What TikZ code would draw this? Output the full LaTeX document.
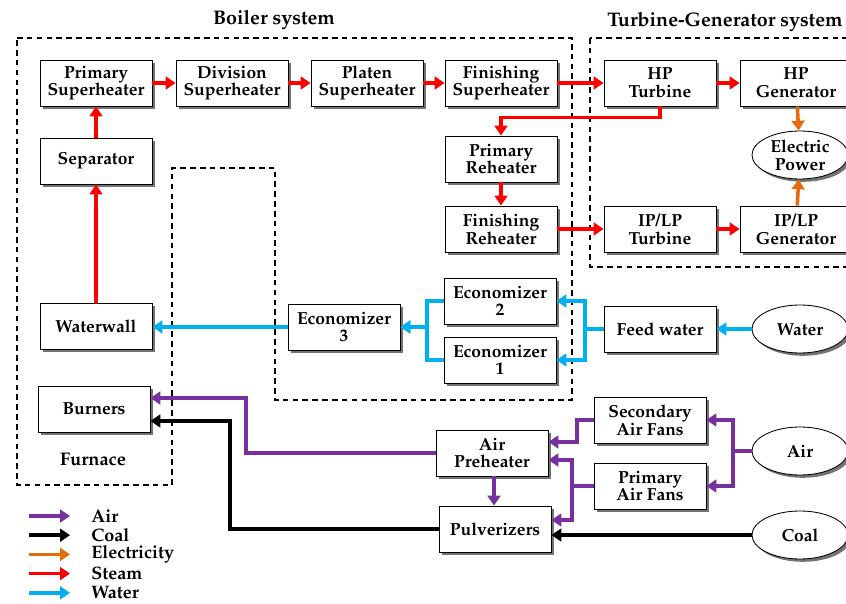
\documentclass[tikz,border=0pt]{standalone}
\usepackage[T1]{fontenc}
\usepackage{mathpazo}
\usetikzlibrary{shapes.geometric}
\usetikzlibrary{arrows.meta}
\usetikzlibrary{shadows}
\usetikzlibrary{positioning}
\usepackage{xcolor}
\definecolor{airc}{RGB}{120,48,160}
\definecolor{elecc}{RGB}{228,108,10}
\definecolor{steamc}{RGB}{255,0,0}
\definecolor{waterc}{RGB}{0,176,240}

\begin{document}
\begin{tikzpicture}[font=\bfseries\fontsize{12.4}{12.6}\selectfont,
    unit/.style={draw, semithick, fill=white, minimum width=2.8cm, minimum height=1.15cm,
        align=center, inner sep=1pt,
        drop shadow={shadow xshift=2pt, shadow yshift=-2pt, fill=black!55, opacity=1}},
    src/.style={ellipse, draw, semithick, fill=white, minimum width=2.4cm, minimum height=1.2cm,
        align=center, inner sep=0pt,
        drop shadow={shadow xshift=2pt, shadow yshift=-2pt, fill=black!55, opacity=1}},
    flow/.style={line width=2.5pt, -{Triangle[length=7pt,width=9pt]}},
    air/.style={flow, airc},
    coal/.style={flow, black},
    elec/.style={flow, elecc},
    steam/.style={flow, steamc},
    water/.style={flow, waterc},
    region/.style={line width=1pt, dash pattern=on 4pt off 3pt},
    biglabel/.style={font=\bfseries\fontsize{14}{16}\selectfont},
    keylabel/.style={font=\bfseries\fontsize{12.8}{13}\selectfont, anchor=west, inner sep=0pt}]
    \useasboundingbox (0, 0) rectangle (21.15, -15.1);

    % dashed regions
    \draw[region] (0.425, -0.95) -- (14.3, -0.95) -- (14.3, -10) -- (6.875, -10)
        -- (6.875, -4.2) -- (4.3, -4.2) -- (4.3, -12.125) -- (0.425, -12.125) -- cycle;
    \draw[region] (14.75, -0.95) rectangle (21.6, -6.675);
    \node[biglabel] (boiler) at (6.85, -0.5) {Boiler system};
    \node[biglabel] (tgsys) at (18.125, -0.55) {Turbine-Generator system};

    % boiler
    \node[unit] (ps) at (2.4, -2.075) {Primary\\Superheater};
    \node[unit] (ds) at (5.8, -2.075) {Division\\Superheater};
    \node[unit] (pls) at (9.175, -2.075) {Platen\\Superheater};
    \node[unit] (fs) at (12.525, -2.075) {Finishing\\Superheater};
    \node[unit] (sep) at (2.4, -4.025) {Separator};
    \node[unit] (pr) at (12.525, -3.975) {Primary\\Reheater};
    \node[unit] (fr) at (12.525, -5.725) {Finishing\\Reheater};
    \node[unit] (ww) at (2.4, -8.15) {Waterwall};
    \node[unit] (bur) at (2.35, -10.225) {Burners};
    \node[font=\bfseries\fontsize{13}{15}\selectfont] (fur) at (2.325, -11.475) {Furnace};
    \node[unit] (eco3) at (8.6, -8.175) {Economizer\\3};
    \node[unit] (eco2) at (12.5, -7.525) {Economizer\\2};
    \node[unit] (eco1) at (12.5, -9.0) {Economizer\\1};

    % turbine-generator
    \node[unit] (hpt) at (16.5, -2.075) {HP\\Turbine};
    \node[unit] (hpg) at (19.9, -2.075) {HP\\Generator};
    \node[unit] (ipt) at (16.5, -5.725) {IP/LP\\Turbine};
    \node[unit] (ipg) at (19.9, -5.725) {IP/LP\\Generator};
    \node[src] (ep) at (20, -3.875) {Electric\\Power};

    % supply side
    \node[unit] (fw) at (16.5, -8.225) {Feed water};
    \node[src] (water) at (20, -8.225) {Water};
    \node[unit] (saf) at (16.25, -10.5) {Secondary\\Air Fans};
    \node[unit] (paf) at (16.25, -12.15) {Primary\\Air Fans};
    \node[src] (air) at (20, -11.275) {Air};
    \node[unit] (ap) at (12.3, -11.325) {Air\\Preheater};
    \node[unit] (pul) at (12.375, -13.225) {Pulverizers};
    \node[src] (coalsrc) at (20, -13.375) {Coal};

    % steam
    \draw[steam] (ww) -- (sep);
    \draw[steam] (sep) -- (ps);
    \draw[steam] (ps) -- (ds);
    \draw[steam] (ds) -- (pls);
    \draw[steam] (pls) -- (fs);
    \draw[steam] (fs) -- (hpt);
    \draw[steam] (hpt) -- (hpg);
    \draw[steam] (hpt.south) -- ++(0, -0.275) -| (pr.north);
    \draw[steam] (pr) -- (fr);
    \draw[steam] (fr) -- (ipt);
    \draw[steam] (ipt) -- (ipg);

    % electricity
    \draw[elec] (hpg) -- (ep);
    \draw[elec] (ipg) -- (ep);

    % water
    \draw[water] (water) -- (fw);
    \draw[water] (fw.west) -- (14.625, -8.225) |- (eco2.east);
    \draw[water] (fw.west) -- (14.625, -8.225) |- (eco1.east);
    \draw[water] (eco2.west) -- (10.675, -7.525) |- (eco3.east);
    \draw[water] (eco1.west) -- (10.675, -9.0) |- (eco3.east);
    \draw[water] (eco3.west) -- (eco3.west -| ww.east);

    % air
    \draw[air] (air.west) -- (18.325, -11.275) |- (saf.east);
    \draw[air] (air.west) -- (18.325, -11.275) |- (paf.east);
    \draw[air] (saf.west) -- (14.425, -10.5) |- (ap.east |- 0, -11.05);
    \draw[air] (paf.west) -- (14.3, -12.15) |- (ap.east |- 0, -11.5);
    \draw[air] (paf.west) -- (14.3, -12.15) |- (pul.east |- 0, -13.0);
    \draw[air] (ap.south -| 12.35, 0) -- (pul.north -| 12.35, 0);
    \draw[air] (ap.west) -- (6.15, -11.325) |- (bur.east |- 0, -9.95);

    % coal
    \draw[coal] (coalsrc.west) -- (coalsrc.west -| pul.east);
    \draw[coal] (pul.west) -- (5.75, -13.225) |- (bur.east |- 0, -10.525);

    % legend
    \coordinate (la) at (0.725, -12.9);
    \coordinate (lb) at (0.725, -13.38);
    \coordinate (lc) at (0.725, -13.86);
    \coordinate (ld) at (0.725, -14.34);
    \coordinate (le) at (0.725, -14.82);
    \draw[air] (la) -- ++(1.025, 0);
    \draw[coal] (lb) -- ++(1.025, 0);
    \draw[elec] (lc) -- ++(1.025, 0);
    \draw[steam] (ld) -- ++(1.025, 0);
    \draw[water] (le) -- ++(1.025, 0);
    \node[keylabel] (lair) at (2.275, -12.9) {Air};
    \node[keylabel] (lcoal) at (2.275, -13.38) {Coal};
    \node[keylabel] (lelec) at (2.275, -13.86) {Electricity};
    \node[keylabel] (lsteam) at (2.275, -14.34) {Steam};
    \node[keylabel] (lwater) at (2.275, -14.82) {Water};
\end{tikzpicture}
\end{document}
